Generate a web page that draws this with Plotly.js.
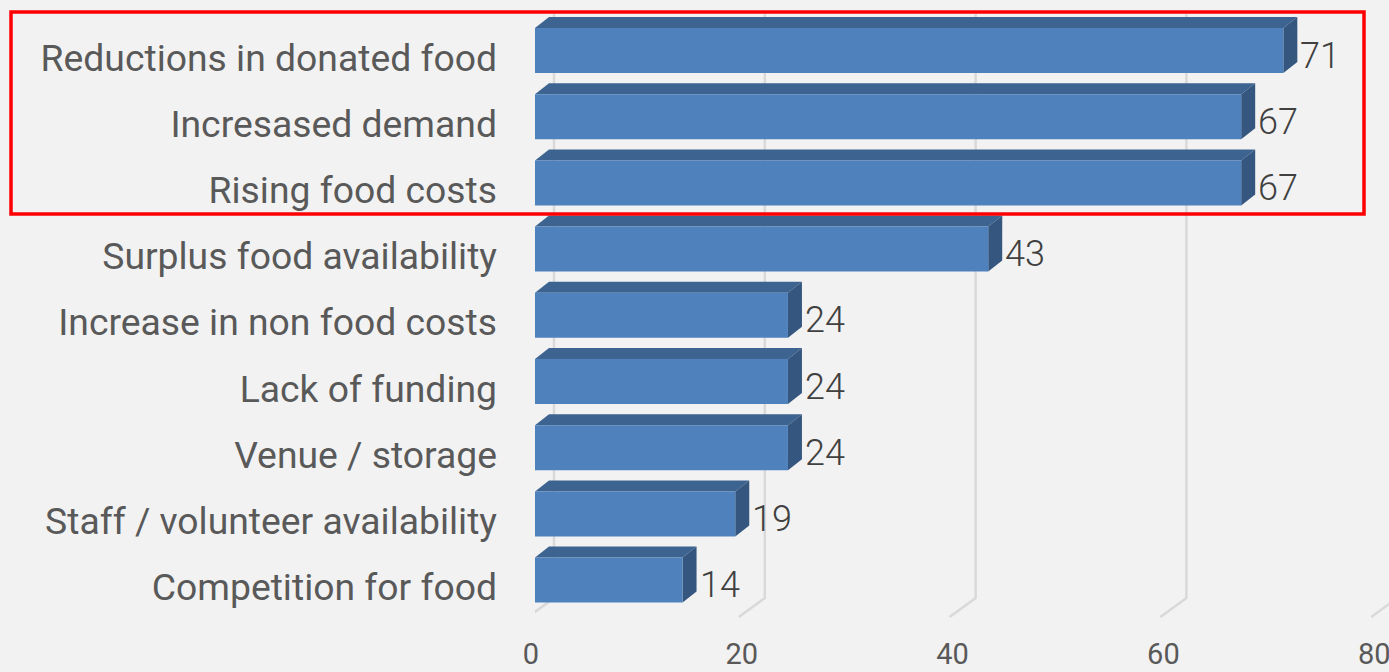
<!DOCTYPE html>
<html>
<head>
<meta charset="utf-8">
<script src="https://cdn.plot.ly/plotly-3.0.1.min.js"></script>
<style>
  html, body { margin: 0; padding: 0; background: #f2f2f2; }
  #chart { width: 1389px; height: 672px; }
</style>
</head>
<body>
<div id="chart"></div>
<script>
// ---- data (top to bottom) ----
const categories = [
  "Reductions in donated food",
  "Incresased demand",
  "Rising food costs",
  "Surplus food availability",
  "Increase in non food costs",
  "Lack of funding",
  "Venue / storage",
  "Staff / volunteer availability",
  "Competition for food"
];
const values = [71, 67, 67, 43, 24, 24, 24, 19, 14];
const xTicks = [0, 20, 40, 60, 80];

// ---- geometry (pixels) ----
const W = 1389, H = 672;
const mL = 535, mR = 0, mT = 14, mB = 52;
const plotW = W - mL - mR, plotH = H - mT - mB;
const pxPerUnit = 10.54;        // x pixels per value unit
const pxPerCat = 66.2;          // y pixels per category
const firstCenterPx = 50.5;     // pixel y of first category centre (from top)
const xMax = plotW / pxPerUnit;
const yTopVal = (mT - firstCenterPx) / pxPerCat;
const yBotVal = yTopVal + plotH / pxPerCat;
const pyToY = py => (py - firstCenterPx) / pxPerCat;
const dX = px => px / pxPerUnit;
const dY = px => px / pxPerCat;

const barW = 0.68;
const depthX = dX(14), depthY = dY(11);
const idx = categories.map((c, i) => i);

const shapes = [];
// perspective gridlines (back wall + floor)
xTicks.forEach(v => {
  const xw = v + dX(19), xf = v - dX(7);
  shapes.push({
    type: 'path', xref: 'x', yref: 'y', layer: 'below',
    path: `M ${xw},${yTopVal} L ${xw},${pyToY(598)} L ${xf},${pyToY(617)}`,
    line: { color: '#d9d9d9', width: 2.5 }
  });
});
// 3D faces of bars
values.forEach((v, i) => {
  const yT = i - barW / 2, yB = i + barW / 2;
  shapes.push({
    type: 'path', xref: 'x', yref: 'y', layer: 'below',
    path: `M 0,${yT} L ${v},${yT} L ${v + depthX},${yT - depthY} L ${depthX},${yT - depthY} Z`,
    fillcolor: '#3d6391', line: { width: 0 }
  });
  shapes.push({
    type: 'path', xref: 'x', yref: 'y', layer: 'below',
    path: `M ${v},${yT} L ${v + depthX},${yT - depthY} L ${v + depthX},${yB - depthY} L ${v},${yB} Z`,
    fillcolor: '#34567f', line: { width: 0 }
  });
});
// red highlight box (pixel positions converted to paper)
const pxToPaperX = px => (px - mL) / plotW;
const pyToPaperY = py => 1 - (py - mT) / plotH;
shapes.push({
  type: 'rect', xref: 'paper', yref: 'paper', layer: 'above',
  x0: pxToPaperX(11), x1: pxToPaperX(1364), y0: pyToPaperY(214), y1: pyToPaperY(12),
  line: { color: '#ff0000', width: 3.5 }, fillcolor: 'rgba(0,0,0,0)'
});

const annotations = values.map((v, i) => ({
  x: v, y: i, xref: 'x', yref: 'y', text: String(v),
  showarrow: false, xanchor: 'left', yanchor: 'middle',
  xshift: 15, yshift: -5,
  font: { family: 'Roboto', size: 36, color: '#404040', weight: 300 }
}));

const trace = {
  type: 'bar', orientation: 'h',
  x: values, y: idx, width: barW,
  marker: { color: '#4f81bd', line: { width: 0 } },
  hoverinfo: 'skip'
};

const layout = {
  width: W, height: H,
  margin: { l: mL, r: mR, t: mT, b: mB, pad: 0 },
  paper_bgcolor: '#f2f2f2', plot_bgcolor: '#f2f2f2',
  showlegend: false,
  xaxis: {
    range: [0, xMax], tickvals: xTicks, ticktext: xTicks.map(String),
    showgrid: false, zeroline: false, showline: false, ticks: '',
    ticklabelshift: -4, ticklabelstandoff: 14, ticklabeloverflow: 'allow',
    tickfont: { family: 'Roboto', size: 29, color: '#595959' }
  },
  yaxis: {
    range: [yBotVal, yTopVal], tickvals: idx, ticktext: categories,
    showgrid: false, zeroline: false, showline: false, ticks: '',
    ticklabelshift: -7, ticklabelstandoff: 37,
    tickfont: { family: 'Roboto', size: 37.3, color: '#595959' }
  },
  shapes: shapes,
  annotations: annotations
};

Plotly.newPlot('chart', [trace], layout, { displayModeBar: false, staticPlot: true });
</script>
</body>
</html>
